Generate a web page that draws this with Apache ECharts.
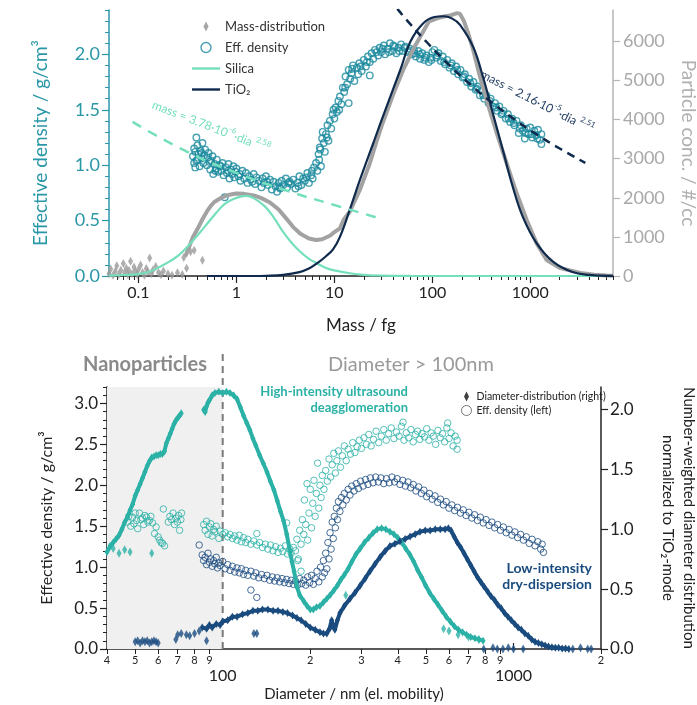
<!DOCTYPE html>
<html>
<head>
<meta charset="utf-8">
<script src="https://cdn.jsdelivr.net/npm/echarts@6/dist/echarts.min.js"></script>
<style>
  html, body { margin: 0; padding: 0; background: #fff; }
  #chart { width: 697px; height: 705px; }
</style>
</head>
<body>
<div id="chart"></div>
<script>
// ---------- top panel: mass distribution (right axis, #/cc) ----------
const massSparse = [[0.05,60],[0.052,180],[0.055,20],[0.058,120],[0.06,260],[0.063,40],[0.066,150],[0.07,320],
  [0.072,80],[0.075,200],[0.078,30],[0.08,140],[0.083,380],[0.086,60],[0.09,230],[0.093,120],[0.097,40],[0.1,170],
  [0.105,280],[0.11,90],[0.115,20],[0.12,190],[0.125,110],[0.13,460],[0.135,60],[0.14,150],[0.15,240],[0.16,90],
  [0.17,30],[0.18,130],[0.2,60],[0.22,20],[0.25,80],[0.28,40],[0.29,470],[0.31,200],[0.34,620],[0.37,660],[0.45,400]];
const massBandMass = [0.30,0.33,0.36,0.40,0.45,0.50,0.55,0.60,0.70,0.80,0.90,1.0,1.2,1.5,1.8,2.2,2.7,3.2,3.8,4.5,
  5.5,6.5,7.5,9,10,11.4,12.4,14.4,18.2,23,27,31,40,50,63,80,92,105,120,135,152,170,180,192,210,233,262,308,360,455,
  575,725,920,1160,1470,2030,3250,4500,6000,7000];
const massBandConc = [500,750,1000,1200,1450,1650,1800,1900,2000,2060,2090,2110,2100,2060,1990,1880,1700,1480,1250,1080,
  960,920,940,1030,1120,1220,1430,1650,2200,2880,3450,3900,4650,5250,5770,6230,6500,6560,6610,6640,6660,6700,6720,6700,6520,6200,5770,5080,4490,3650,
  2880,2120,1430,840,410,200,80,30,10,5];

// fitted log-normal modes (right axis)
const silMass = [0.05,0.07,0.1,0.13,0.164,0.21,0.26,0.33,0.42,0.52,0.62,0.75,0.92,1.1,1.25,1.5,1.95,2.4,2.9,3.6,
  4.4,5.5,6.7,8,9.7,14.4,20,30,60,200,7000];
const silConc = [10,25,50,110,230,380,540,800,1100,1380,1610,1830,1960,2030,2050,1990,1780,1500,1180,870,
  640,440,320,220,150,70,30,12,3,0,0];
const tioMass = [0.5,1,1.5,2,3,4.4,5.5,6.7,8,9.7,11.4,14.4,18.2,25,34,47,60,80,105,130,160,192,
  262,330,415,525,665,840,1160,1720,2700,4000,7000];
const tioConc = [0,0,0,5,30,100,190,330,480,680,1000,1700,2450,3400,4320,5260,6000,6450,6620,6640,6580,6420,
  5850,5080,4160,3220,2270,1510,840,360,100,30,5];

// power-law fits of effective density (left axis)
const silFitMass = [0.087,0.3,1,3,10,29];
const silFitDens = [1.39,1.13,0.93,0.78,0.64,0.52];
const tioFitMass = [44,60,90,150,250,400,700,1200,2000,3650];
const tioFitDens = [2.41,2.27,2.10,1.90,1.72,1.57,1.41,1.27,1.15,1.02];

// effective density vs mass (left axis)
const effDensTop = [
  [0.36,1.08],[0.37,1.15],[0.37,1.02],[0.38,1.12],[0.38,0.98],[0.39,1.25],[0.40,1.05],[0.40,1.18],[0.41,1.10],[0.42,0.99],
  [0.43,1.13],[0.44,1.06],[0.45,1.20],[0.46,1.02],[0.47,1.09],[0.48,1.14],[0.50,1.00],[0.51,1.07],[0.52,1.11],[0.54,0.96],
  [0.55,1.04],[0.57,1.08],[0.58,0.92],[0.60,1.01],[0.62,0.97],[0.63,1.05],[0.65,0.94],[0.67,1.00],[0.70,0.95],[0.72,1.02],
  [0.74,0.91],[0.76,0.71],[0.78,0.98],[0.80,0.93],[0.83,1.01],[0.85,0.88],[0.88,0.96],[0.90,0.92],[0.93,0.99],[0.95,0.89],
  [0.98,0.94],[1.0,0.97],[1.05,0.90],[1.1,0.86],[1.15,0.95],[1.2,0.88],[1.25,0.93],[1.3,0.84],[1.35,0.90],[1.4,0.87],
  [1.5,0.92],[1.55,0.83],[1.6,0.89],[1.7,0.86],[1.8,0.80],[1.85,0.88],[1.9,0.84],[2.0,0.90],[2.1,0.82],[2.2,0.87],
  [2.3,0.78],[2.4,0.85],[2.5,0.81],[2.6,0.76],[2.7,0.84],[2.8,0.79],[2.9,0.86],[3.0,0.82],[3.2,0.88],[3.3,0.80],
  [3.5,0.85],[3.6,0.83],[3.8,0.87],[4.0,0.79],[4.2,0.84],[4.4,0.90],[4.6,0.82],[4.8,0.88],[5.0,0.86],[5.3,0.93],
  [5.5,0.84],[5.8,0.91],[6.0,0.88],[6.2,0.98],[6.5,1.02],[6.7,0.95],[6.9,1.10],[7.0,1.05],[7.2,1.14],[7.3,0.99],
  [7.5,1.24],[7.6,1.30],[7.8,1.20],[8.0,1.12],[8.2,1.28],[8.5,1.36],[8.7,1.22],[9.0,1.40],[9.3,1.33],[9.6,1.46],
  [10,1.42],[10.3,1.52],[10.6,1.48],[11,1.58],[11.4,1.62],[11.8,1.55],[12.2,1.70],[12.6,1.66],[13,1.80],[13.5,1.73],
  [14,1.86],[14,1.56],[14.5,1.78],[15,1.83],[15.5,1.90],[16,1.76],[17,1.88],[17.5,1.82],[18,1.92],[19,1.85],
  [20,1.95],[21,1.89],[22,1.98],[23,1.81],[23,1.93],[24,2.01],[25,1.96],[26,2.04],[28,1.99],[29,2.06],
  [30,2.02],[32,2.08],[33,2.00],[35,2.05],[37,2.10],[39,2.03],[41,2.07],[43,2.01],[45,2.06],[48,2.09],
  [50,2.03],[53,2.07],[56,2.02],[59,2.05],[62,2.00],[65,2.04],[68,1.98],[72,2.03],[75,1.96],[79,2.01],
  [83,1.95],[87,1.99],[92,1.93],[96,1.97],[100,2.02],[105,2.04],[110,1.97],[116,2.01],[122,1.94],[128,1.98],
  [135,1.91],[142,1.95],[150,1.88],[158,1.92],[166,1.85],[175,1.89],[184,1.82],[194,1.86],[204,1.79],[215,1.82],
  [226,1.75],[238,1.78],[250,1.71],[263,1.75],[277,1.68],[291,1.71],[306,1.63],[322,1.67],[339,1.60],[357,1.63],
  [375,1.56],[395,1.60],[415,1.53],[437,1.56],[460,1.49],[484,1.53],[509,1.46],[535,1.49],[563,1.42],[592,1.46],
  [623,1.39],[655,1.42],[690,1.36],[725,1.40],[763,1.29],[800,1.36],[840,1.31],[880,1.24],[920,1.33],[960,1.28],
  [1000,1.34],[1050,1.25],[1100,1.31],[1150,1.27],[1200,1.32],[1250,1.23],[1300,1.19],[1300,1.28],
  [0.39,1.04],[0.44,1.11],[0.53,1.03],[0.61,0.95],[0.69,0.99],[0.82,0.95],[1.08,0.92],[1.45,0.85],[2.05,0.85],[2.75,0.80],
  [3.4,0.84],[4.3,0.81],[5.2,0.89],[5.9,0.95],[7.1,1.16],[8.4,1.25],[9.8,1.50],[11.2,1.50],[12.9,1.70],[15.2,1.87],
  [18.5,1.89],[21.5,1.93],[27,2.02],[31,2.05],[36,2.02],[40,2.08],[46,2.03],[52,2.06],[58,2.03],[66,2.01],
  [74,2.00],[85,1.97],[98,1.95],[113,1.99],[132,1.93],[155,1.90],[180,1.86],[210,1.80],[245,1.74],[285,1.69],
  [330,1.63],[385,1.58],[450,1.52],[520,1.47],[600,1.42],[680,1.38],[780,1.33],[900,1.29],[1020,1.28],[1180,1.24]];

const massMajorTicks = [0.1,1,10,100,1000];
const massMinorTicks = [0.06,0.07,0.08,0.09,0.2,0.3,0.4,0.5,0.6,0.7,0.8,0.9,2,3,4,5,6,7,8,9,
  20,30,40,50,60,70,80,90,200,300,400,500,600,700,800,900,2000,3000,4000,5000,6000,7000];
const densTicksTop = [0,0.5,1,1.5,2];
const concTicks = [0,1000,2000,3000,4000,5000,6000];

// ---------- bottom panel: diameter ----------
const highDistD = [40,41,42,43,44,45,46,47,48,49,50,51,52,53,54,55,56,57,58,59,60,61,62,63,64,65,66,67,68,69,70,71,72,
  79,86,87,88,89,90,92,94,97,100,103,106,109,112,115,118,121,124,127,130,134,138,142,146,150,154,158,162,166,170,173,176,
  180,184,190,195,200,205,210,216,222,228,234,241,248,255,262,270,278,287,297,307,318,329,340,352,364,376,388,400,
  413,426,440,454,468,483,499,515,532,550,568,587,606,626,647,668,690,713,737,761,786];
const highDist = [0.81,0.86,0.89,0.92,0.95,1.00,1.06,1.10,1.16,1.21,1.28,1.33,1.38,1.43,1.48,1.53,1.57,1.60,1.61,1.62,1.62,1.63,1.63,1.65,1.72,1.76,1.80,1.84,1.88,1.91,1.93,1.95,1.97,
  null,2.00,1.98,2.03,2.06,2.08,2.12,2.14,2.15,2.14,2.15,2.14,2.12,2.09,2.02,1.95,1.89,1.83,1.76,1.70,1.62,1.55,1.48,1.40,1.33,1.24,1.15,1.07,0.96,0.83,0.73,0.65,
  0.52,0.45,0.40,0.36,0.33,0.33,0.35,0.36,0.39,0.42,0.45,0.49,0.53,0.58,0.62,0.67,0.73,0.79,0.84,0.89,0.93,0.97,1.00,1.01,1.00,0.98,0.96,0.93,
  0.89,0.84,0.79,0.73,0.66,0.60,0.53,0.47,0.42,0.37,0.32,0.27,0.23,0.19,0.16,0.14,0.12,0.10,0.09,0.08,0.07];
const highDistExtra = [[42,0.84],[44,0.80],[46,0.83],[48,0.81],[57,0.80],[265,0.45],[575,0.17],[600,0.15],[645,0.12],[700,0.10],[760,0.08]];

const lowDistD = [85,88,90,92,95,98,100,104,108,112,117,122,127,132,137,143,149,155,161,167,174,180,186,193,200,208,216,222,228,
  233,237,240,243,248,253,262,274,285,297,309,321,334,348,362,376,391,407,424,441,459,477,497,517,538,560,582,597,
  610,625,641,658,676,694,713,732,752,772,793,815,837,860,883,907,932,957,983,1010,1037,1065,1094,1124,1155,1186,
  1218,1251,1285,1320,1356,1393,1430,1470,1510,1550];
const lowDist = [0.18,0.17,0.20,0.18,0.21,0.20,0.23,0.24,0.27,0.27,0.29,0.30,0.32,0.32,0.33,0.33,0.32,0.32,0.31,0.30,0.28,0.26,0.24,0.21,0.18,0.16,0.14,0.13,0.13,
  0.17,0.24,0.19,0.16,0.24,0.30,0.36,0.42,0.47,0.53,0.59,0.65,0.71,0.77,0.82,0.86,0.88,0.90,0.92,0.94,0.96,0.98,0.99,0.99,1.00,1.00,1.00,1.01,
  0.99,0.94,0.89,0.85,0.80,0.75,0.70,0.65,0.60,0.56,0.52,0.48,0.44,0.41,0.37,0.34,0.30,0.27,0.24,0.21,0.18,0.16,0.13,0.11,0.08,0.06,
  0.05,0.04,0.03,0.02,0.015,0.01,0.01,0.005,0.005,0.0];
const lowDistExtra = [[50,0.06],[51,0.07],[52,0.05],[53,0.07],[54,0.06],[55,0.07],[56,0.05],[57,0.06],[58,0.07],[59,0.06],[60,0.05],
  [69,0.08],[70,0.12],[72,0.13],[75,0.12],[77,0.11],[80,0.13],[83,0.15],[88,0.07],[128,0.13],[131,0.13],
  [790,0],[850,0.01],[880,0],[920,0],[960,0.01],[1000,0],[1080,0],[1600,0],[1700,0.01],[1800,0],[1850,0]];

const highDens = [
  [47.0,1.55],[47.5,1.62],[48.3,1.50],[49.0,1.61],[49.5,1.53],[50.0,1.66],[50.5,1.57],[51.0,1.47],[51.7,1.66],[52.3,1.58],
  [52.9,1.60],[53.5,1.52],[54.0,1.63],[54.7,1.61],[55.3,1.55],[56.0,1.57],[56.6,1.62],[57.4,1.54],[58.3,1.41],[59.0,1.49],
  [60.0,1.37],[60.7,1.33],[61.4,1.30],[62.1,1.29],[62.5,1.71],[63.1,1.26],[65.0,1.55],[65.8,1.62],[66.7,1.58],[67.5,1.66],
  [68.3,1.52],[69.0,1.60],[69.9,1.55],[70.5,1.63],[71.1,1.45],[71.8,1.58],[72.2,1.66],
  [86,1.52],[87,1.45],[88,1.56],[89,1.40],[90,1.49],[91,1.53],[92,1.38],[93,1.46],[94,1.43],[95,1.50],[97,1.35],[98,1.44],
  [100,1.40],[102,1.42],[104,1.37],[106,1.40],[108,1.35],[110,1.38],[112,1.33],[114,1.39],[116,1.31],[118,1.36],[120,1.30],
  [122,1.34],[125,1.28],[128,1.32],[131,1.41],[131,1.27],[134,1.30],[137,1.24],[140,1.28],[143,1.22],[146,1.27],[149,1.20],
  [152,1.25],[155,1.18],[158,1.23],[161,1.19],[164,1.26],[166,1.54],[167,1.16],[170,1.22],[172,1.17],[175,1.24],[178,1.20],
  [180,1.34],[181,1.08],[182,1.10],[184,1.45],[186,0.95],[186,1.28],[188,1.58],[190,1.40],[191,1.82],[193,1.52],[195,2.02],
  [196,1.33],[198,1.66],[200,1.95],[202,1.48],[204,1.78],[206,2.06],[208,1.62],[210,1.90],[212,2.27],[214,1.72],[216,2.00],
  [218,1.85],[220,2.12],[223,1.95],[226,2.18],[229,2.05],[232,2.32],[235,2.10],[238,2.25],[241,2.39],[244,2.15],[247,2.30],
  [250,2.42],[254,2.22],[258,2.36],[262,2.48],[266,2.30],[270,2.44],[275,2.38],[280,2.52],[285,2.40],[290,2.47],
  [295,2.55],[300,2.45],[306,2.58],[312,2.50],[318,2.62],[324,2.48],[330,2.56],[337,2.66],[344,2.52],[351,2.60],[358,2.68],
  [365,2.55],[372,2.63],[380,2.70],[388,2.57],[396,2.65],[404,2.60],[412,2.72],[417,2.77],[420,2.55],[428,2.64],[436,2.58],
  [444,2.68],[452,2.53],[460,2.62],[468,2.66],[476,2.56],[485,2.63],[494,2.59],[503,2.69],[512,2.55],[521,2.64],[530,2.60],
  [540,2.50],[550,2.67],[560,2.58],[570,2.63],[580,2.53],[590,2.70],[594,2.76],[600,2.57],[610,2.64],[620,2.48],[630,2.60],
  [640,2.44],[640,2.55]];

const lowDens = [
  [83,1.27],[85,1.15],[86,1.08],[87,1.12],[88,1.03],[89,1.17],[90,1.06],[91,1.10],[92,1.01],[93,1.08],[94,1.04],[95,1.12],
  [96,0.99],[97,1.05],[98,1.02],[100,1.07],[102,0.98],[104,1.03],[106,0.96],[108,1.01],[110,0.94],[112,0.99],[114,0.93],
  [116,0.98],[118,0.91],[120,0.96],[122,0.90],[125,0.72],[125,0.95],[128,0.89],[130,0.93],[131,0.63],[133,0.87],[136,0.91],
  [139,0.86],[142,0.90],[145,0.84],[148,0.88],[151,0.83],[154,0.87],[157,0.82],[160,0.86],[163,0.81],[166,0.85],[169,0.80],
  [172,0.84],[175,0.79],[178,0.83],[181,0.78],[184,0.86],[187,0.80],[190,0.84],[193,0.78],[196,0.88],[199,0.81],[202,0.90],
  [205,0.79],[208,0.86],[211,0.95],[214,0.82],[217,1.00],[220,0.88],[222,1.08],[224,0.93],[226,1.17],[228,0.98],[230,1.30],
  [232,1.10],[234,1.42],[236,1.22],[238,1.55],[240,1.35],[242,1.62],[244,1.48],[246,1.72],[248,1.58],[250,1.80],[253,1.68],
  [256,1.85],[259,1.76],[262,1.90],[266,1.82],[270,1.95],[274,1.88],[278,1.99],[283,1.93],[288,2.02],[293,1.96],[298,2.05],
  [304,1.99],[310,2.07],[316,2.01],[322,2.09],[329,2.03],[336,2.10],[343,2.04],[350,2.09],[358,2.02],[366,2.08],[374,2.03],
  [382,2.10],[390,2.04],[398,2.08],[407,2.01],[416,2.06],[425,1.99],[434,2.04],[443,1.97],[452,2.01],[462,1.93],[472,1.98],
  [482,1.90],[492,1.94],[503,1.86],[514,1.90],[525,1.83],[537,1.87],[549,1.79],[561,1.83],[574,1.76],[587,1.80],[600,1.72],
  [614,1.76],[628,1.69],[642,1.73],[657,1.66],[672,1.70],[687,1.63],[703,1.67],[719,1.60],[735,1.64],[752,1.57],[769,1.61],
  [787,1.54],[805,1.58],[824,1.51],[843,1.55],[862,1.48],[882,1.52],[902,1.45],[923,1.49],[944,1.42],[966,1.46],[988,1.39],
  [1011,1.43],[1034,1.36],[1058,1.40],[1082,1.33],[1107,1.37],[1133,1.29],[1159,1.34],[1186,1.26],[1213,1.31],[1241,1.22],
  [1255,1.28],[1268,1.18]];

const diaTicks = [40,50,60,70,80,90,200,300,400,500,600,700,800,900,2000];
const diaDecades = [100,1000];
const diaLabels = [40,50,60,70,80,90,100,200,300,400,500,600,700,800,900,1000,2000];
const densTicksBottom = [0,0.5,1,1.5,2,2.5,3];
const distTicks = [0,0.5,1,1.5,2];
const dividerD = [100,100];
const dividerY = [0,3.62];

// ---------- build ----------
const FONT = 'Lato, "Noto Sans", "DejaVu Sans", sans-serif';
const TEAL = '#1a8a9d', TEAL_AX = '#2a97a7', GRAY = '#a2a2a2', MINT = '#74dfbd', NAVY = '#0f2a4c';
const HI = '#2bb1a6', LO = '#1a4b7f', INK = '#222';
const DIAMOND = 'path://M5,0L10,10L5,20L0,10Z';
const BAR = 'path://M0,0H28V2.4H0Z';
const lg = Math.log10;
const xy = (xs, ys) => xs.map((x, i) => [lg(x), ys[i]]);
const pl = arr => arr.map(p => [lg(p[0]), p[1]]);
const fmt1 = v => v.toFixed(1);

const chart = echarts.init(document.getElementById('chart'));

const minorY = (grid, max, color) => ({
  gridIndex: grid, type: 'value', position: 'left', min: 0, max: max, interval: 0.1,
  axisLine: { show: false, onZero: false }, axisLabel: { show: false }, splitLine: { show: false },
  axisTick: { show: true, length: 4, lineStyle: { color: color, width: 1 } }
});

const option = {
  animation: false,
  textStyle: { fontFamily: FONT },
  grid: [
    { left: 109, top: 10, width: 504, height: 266, outerBoundsMode: 'none', containLabel: false },
    { left: 107, top: 387, width: 494, height: 262, outerBoundsMode: 'none', containLabel: false }
  ],
  xAxis: [
    { gridIndex: 0, type: 'value', position: 'bottom', min: lg(0.05), max: lg(7000),
      axisLine: { onZero: false, lineStyle: { color: INK, width: 1.5 } },
      axisTick: { show: true, customValues: massMajorTicks.map(lg), length: 7, lineStyle: { color: INK, width: 1.2 } },
      axisLabel: { customValues: massMajorTicks.map(lg), margin: 9, fontSize: 16, color: INK, fontFamily: FONT,
        formatter: v => { const m = Math.pow(10, v); return m < 1 ? m.toFixed(1) : String(Math.round(m)); } },
      splitLine: { show: false },
      name: 'Mass / fg', nameLocation: 'middle', nameGap: 41,
      nameTextStyle: { fontSize: 17, color: INK, fontFamily: FONT } },
    { gridIndex: 0, type: 'value', position: 'bottom', min: lg(0.05), max: lg(7000),
      axisLine: { show: false, onZero: false }, axisLabel: { show: false }, splitLine: { show: false },
      axisTick: { show: true, customValues: massMinorTicks.map(lg), length: 4, lineStyle: { color: INK, width: 1 } } },
    { gridIndex: 1, type: 'value', position: 'bottom', min: lg(40), max: lg(2000),
      axisLine: { onZero: false, lineStyle: { color: INK, width: 1.5 } },
      axisTick: { show: true, customValues: diaTicks.map(lg), length: 5, lineStyle: { color: INK, width: 1 } },
      axisLabel: { customValues: diaLabels.map(lg), margin: 6, color: INK, fontFamily: FONT,
        formatter: v => { const d = Math.round(Math.pow(10, v)); return (d === 100 || d === 1000) ? '{b|' + d + '}' : '{s|' + String(d).charAt(0) + '}'; },
        rich: { s: { fontSize: 11, color: INK, fontFamily: FONT }, b: { fontSize: 16, color: INK, fontFamily: FONT, padding: [13, 0, 0, 0] } } },
      splitLine: { show: false },
      name: 'Diameter / nm (el. mobility)', nameLocation: 'middle', nameGap: 38,
      nameTextStyle: { fontSize: 15, color: INK, fontFamily: FONT } },
    { gridIndex: 1, type: 'value', position: 'bottom', min: lg(40), max: lg(2000),
      axisLine: { show: false, onZero: false }, axisLabel: { show: false }, splitLine: { show: false },
      axisTick: { show: true, inside: true, customValues: diaDecades.map(lg), length: 6, lineStyle: { color: INK, width: 1.2 } } }
  ],
  yAxis: [
    { gridIndex: 0, type: 'value', position: 'left', min: 0, max: 2.4,
      axisLine: { show: true, onZero: false, lineStyle: { color: TEAL_AX, width: 1.5 } },
      axisTick: { show: true, customValues: densTicksTop, length: 7, lineStyle: { color: TEAL_AX, width: 1.2 } },
      axisLabel: { customValues: densTicksTop, formatter: fmt1, color: TEAL_AX, fontSize: 18, margin: 9, fontFamily: FONT },
      splitLine: { show: false },
      name: 'Effective density / g/cm³', nameLocation: 'middle', nameGap: 59,
      nameTextStyle: { fontSize: 19, color: TEAL_AX, fontFamily: FONT } },
    minorY(0, 2.4, TEAL_AX),
    { gridIndex: 0, type: 'value', position: 'right', min: 0, max: 6800,
      axisLine: { show: true, onZero: false, lineStyle: { color: '#b5b5b5', width: 1.5 } },
      axisTick: { show: true, customValues: concTicks, length: 7, lineStyle: { color: '#b5b5b5', width: 1.2 } },
      axisLabel: { customValues: concTicks, formatter: v => String(Math.round(v)), color: '#a8a8a8', fontSize: 18, margin: 10, fontFamily: FONT },
      splitLine: { show: false },
      name: 'Particle conc. / #/cc', nameLocation: 'middle', nameGap: 66, nameRotate: -90,
      nameTextStyle: { fontSize: 19, color: '#b0b0b0', fontFamily: FONT } },
    { gridIndex: 1, type: 'value', position: 'left', min: 0, max: 3.2,
      axisLine: { show: true, onZero: false, lineStyle: { color: INK, width: 1.5 } },
      axisTick: { show: true, customValues: densTicksBottom, length: 7, lineStyle: { color: INK, width: 1.2 } },
      axisLabel: { customValues: densTicksBottom, formatter: fmt1, color: INK, fontSize: 17, margin: 9, fontFamily: FONT },
      splitLine: { show: false },
      name: 'Effective density / g/cm³', nameLocation: 'middle', nameGap: 52,
      nameTextStyle: { fontSize: 16, color: INK, fontFamily: FONT } },
    minorY(1, 3.2, INK),
    { gridIndex: 1, type: 'value', position: 'right', min: 0, max: 2.19,
      axisLine: { show: true, onZero: false, lineStyle: { color: INK, width: 1.5 } },
      axisTick: { show: true, customValues: distTicks, length: 7, lineStyle: { color: INK, width: 1.2 } },
      axisLabel: { customValues: distTicks, formatter: fmt1, color: INK, fontSize: 17, margin: 9, fontFamily: FONT },
      splitLine: { show: false },
      name: 'Number-weighted diameter distribution\nnormalized to TiO₂-mode', nameLocation: 'middle', nameGap: 56, nameRotate: -90,
      nameTextStyle: { fontSize: 15, lineHeight: 21, color: INK, fontFamily: FONT } }
  ],
  legend: [
    { left: 192, top: 20, padding: 0, orient: 'vertical', itemWidth: 28, itemHeight: 10, itemGap: 8, selectedMode: false,
      textStyle: { fontSize: 13, color: '#333', fontFamily: FONT },
      data: [
        { name: 'Mass-distribution', icon: DIAMOND, itemStyle: { color: '#8f8f8f' } },
        { name: 'Eff. density', icon: 'circle', itemStyle: { color: 'transparent', borderColor: TEAL, borderWidth: 1.4 } },
        { name: 'Silica', icon: BAR, itemStyle: { color: MINT } },
        { name: 'TiO₂', icon: BAR, itemStyle: { color: NAVY } }
      ] },
    { left: 461, top: 391, padding: 0, orient: 'vertical', itemWidth: 10, itemHeight: 10, itemGap: 3, selectedMode: false,
      textStyle: { fontSize: 10.5, color: INK, fontFamily: FONT },
      data: [
        { name: 'Diameter-distribution (right)', icon: DIAMOND, itemStyle: { color: '#111' } },
        { name: 'Eff. density (left)', icon: 'circle', itemStyle: { color: 'transparent', borderColor: '#555', borderWidth: 1 } }
      ] }
  ],
  series: [
    // top panel
    { name: 'Mass-distribution', type: 'scatter', xAxisIndex: 0, yAxisIndex: 2, data: pl(massSparse),
      symbol: 'diamond', symbolSize: [5, 9], itemStyle: { color: '#9a9a9a' } },
    { name: 'Mass-distribution', type: 'line', xAxisIndex: 0, yAxisIndex: 2, data: xy(massBandMass, massBandConc),
      symbol: 'none', lineStyle: { color: GRAY, width: 4 } },
    { name: 'Eff. density', type: 'scatter', xAxisIndex: 0, yAxisIndex: 0, data: pl(effDensTop),
      symbol: 'circle', symbolSize: 6.5, itemStyle: { color: 'transparent', borderColor: TEAL, borderWidth: 1.4 } },
    { name: 'Silica', type: 'line', xAxisIndex: 0, yAxisIndex: 2, data: xy(silMass, silConc), smooth: 0.4,
      symbol: 'none', lineStyle: { color: MINT, width: 2.2 }, itemStyle: { color: MINT } },
    { name: 'TiO₂', type: 'line', xAxisIndex: 0, yAxisIndex: 2, data: xy(tioMass, tioConc), smooth: 0.4,
      symbol: 'none', lineStyle: { color: NAVY, width: 2.2 }, itemStyle: { color: NAVY } },
    { name: 'silicaFit', type: 'line', xAxisIndex: 0, yAxisIndex: 0, data: xy(silFitMass, silFitDens), smooth: true,
      symbol: 'none', lineStyle: { color: MINT, width: 2.5, type: [10, 8] } },
    { name: 'tioFit', type: 'line', xAxisIndex: 0, yAxisIndex: 0, data: xy(tioFitMass, tioFitDens), smooth: true,
      symbol: 'none', lineStyle: { color: NAVY, width: 2.5, type: [8, 6] } },

    // bottom panel
    { name: 'divider', type: 'line', xAxisIndex: 2, yAxisIndex: 3, data: xy(dividerD, dividerY), clip: false, z: 1,
      symbol: 'none', lineStyle: { color: '#7a7a7a', width: 2, type: [7, 5] },
      markArea: { silent: true, itemStyle: { color: '#f0f0f0' }, data: [[{ xAxis: lg(40) }, { xAxis: lg(100) }]] } },
    { name: 'highDist', type: 'line', xAxisIndex: 2, yAxisIndex: 5, data: xy(highDistD, highDist), connectNulls: false,
      symbol: 'diamond', symbolSize: [5, 8], showSymbol: true, lineStyle: { color: HI, width: 4 }, itemStyle: { color: HI } },
    { name: 'highDistExtra', type: 'scatter', xAxisIndex: 2, yAxisIndex: 5, data: pl(highDistExtra),
      symbol: 'diamond', symbolSize: [5, 9], itemStyle: { color: HI } },
    { name: 'lowDist', type: 'line', xAxisIndex: 2, yAxisIndex: 5, data: xy(lowDistD, lowDist),
      symbol: 'diamond', symbolSize: [5, 8], showSymbol: true, lineStyle: { color: LO, width: 4 }, itemStyle: { color: LO } },
    { name: 'lowDistExtra', type: 'scatter', xAxisIndex: 2, yAxisIndex: 5, data: pl(lowDistExtra),
      symbol: 'diamond', symbolSize: [5, 9], itemStyle: { color: LO } },
    { name: 'highDens', type: 'scatter', xAxisIndex: 2, yAxisIndex: 3, data: pl(highDens),
      symbol: 'circle', symbolSize: 6.5, itemStyle: { color: 'transparent', borderColor: HI, borderWidth: 1 } },
    { name: 'lowDens', type: 'scatter', xAxisIndex: 2, yAxisIndex: 3, data: pl(lowDens),
      symbol: 'circle', symbolSize: 6.5, itemStyle: { color: 'transparent', borderColor: LO, borderWidth: 1 } },
    { name: 'Diameter-distribution (right)', type: 'scatter', xAxisIndex: 2, yAxisIndex: 5, data: [], itemStyle: { color: '#111' } },
    { name: 'Eff. density (left)', type: 'scatter', xAxisIndex: 2, yAxisIndex: 3, data: [], itemStyle: { color: '#555' } }
  ],
  graphic: [
    { type: 'text', x: 211, y: 127, rotation: -0.37,
      style: { text: '{n|mass = 3.78·10}{s|-6}{n|·dia }{s|2.58}', align: 'center', verticalAlign: 'middle',
        rich: { n: { fontSize: 12, lineHeight: 18, fill: MINT, fontFamily: FONT }, s: { fontSize: 8, verticalAlign: 'top', fill: MINT, fontFamily: FONT } } } },
    { type: 'text', x: 537, y: 102, rotation: -0.47,
      style: { text: '{n|mass = 2.16·10}{s|-5}{n|·dia }{s|2.51}', align: 'center', verticalAlign: 'middle',
        rich: { n: { fontSize: 12, lineHeight: 18, fill: '#2a4468', fontFamily: FONT }, s: { fontSize: 8, verticalAlign: 'top', fill: '#2a4468', fontFamily: FONT } } } },
    { type: 'text', x: 83, y: 355,
      style: { text: 'Nanoparticles', fontSize: 20, fontWeight: 'bold', fill: '#8a8a8a', fontFamily: FONT } },
    { type: 'text', x: 328, y: 355,
      style: { text: 'Diameter > 100nm', fontSize: 20, fill: '#9a9a9a', fontFamily: FONT } },
    { type: 'text', x: 408, y: 384,
      style: { text: 'High-intensity ultrasound\ndeagglomeration', align: 'right', fontSize: 13, lineHeight: 16,
        fontWeight: 'bold', fill: HI, fontFamily: FONT } },
    { type: 'text', x: 592, y: 560,
      style: { text: 'Low-intensity\ndry-dispersion', align: 'right', fontSize: 14, lineHeight: 16,
        fontWeight: 'bold', fill: LO, fontFamily: FONT } }
  ]
};

chart.setOption(option);
</script>
</body>
</html>
